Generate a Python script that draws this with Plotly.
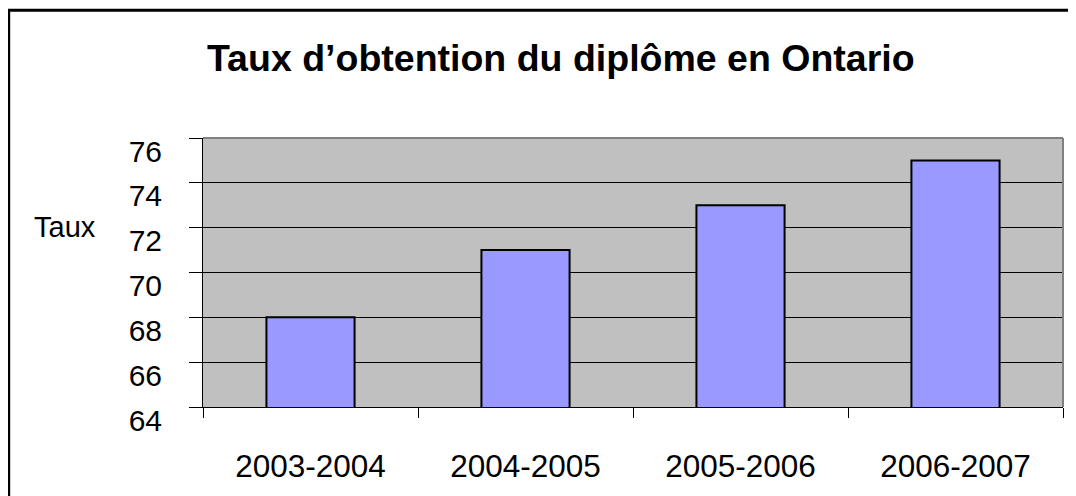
import plotly.graph_objects as go

categories = ["2003-2004", "2004-2005", "2005-2006", "2006-2007"]
taux = [68, 71, 73, 75]
y_ticks = [64, 66, 68, 70, 72, 74, 76]
title_text = "Taux d’obtention du diplôme en Ontario"
y_label = "Taux"

OFF = 8  # page body margin
W, H = 1076 - OFF, 496 - OFF
L, T = 203 - OFF, 138 - OFF
R = W - (1063 - OFF)
B = H - (410 - OFF)
pw, ph = W - L - R, H - T - B

def px_x(x):
    return (x - OFF - L) / pw

def px_y(y):
    return (H - B - (y - OFF)) / ph

fig = go.Figure()
fig.add_trace(go.Bar(
    x=categories, y=taux, width=0.41,
    marker=dict(color="#9999FF", line=dict(color="#000000", width=2)),
    showlegend=False, hoverinfo="skip",
))

fig.update_layout(
    width=W, height=H,
    margin=dict(l=L, r=R, t=T, b=B, pad=0),
    paper_bgcolor="#FFFFFF",
    plot_bgcolor="#C0C0C0",
    font=dict(family="Liberation Sans, Arial, sans-serif", color="#000000"),
    xaxis=dict(
        type="category", tickson="boundaries", ticks="outside", ticklen=10,
        tickcolor="#000000", tickwidth=1, showgrid=False,
        showline=True, linecolor="#000000", linewidth=1,
        tickfont=dict(size=31.5), ticklabelstandoff=31,
    ),
    yaxis=dict(
        range=[64, 76], tickvals=y_ticks, ticktext=[str(v) for v in y_ticks],
        ticks="outside", ticklen=13, tickcolor="#000000", tickwidth=1,
        showgrid=True, gridcolor="#000000", gridwidth=1,
        showline=True, linecolor="#000000", linewidth=1, zeroline=False,
        tickfont=dict(size=30), ticklabelshift=13, ticklabelstandoff=21,
    ),
    shapes=[
        dict(type="line", xref="paper", yref="paper", x0=0, x1=1, y0=1, y1=1,
             line=dict(color="#808080", width=2)),
        dict(type="line", xref="paper", yref="paper", x0=1, x1=1, y0=0, y1=1,
             line=dict(color="#808080", width=2)),
        dict(type="rect", xref="paper", yref="paper",
             x0=px_x(8.7), x1=px_x(1300), y0=px_y(8.7), y1=px_y(700),
             line=dict(color="#000000", width=3), layer="above"),
    ],
    annotations=[
        dict(text=f"<b>{title_text}</b>", xref="paper", yref="paper",
             x=px_x(561), y=px_y(57), xanchor="center", yanchor="middle",
             showarrow=False, font=dict(size=37.5)),
        dict(text=y_label, xref="paper", yref="paper",
             x=px_x(65), y=px_y(228), xanchor="center", yanchor="middle",
             showarrow=False, font=dict(size=29)),
    ],
)

fig.write_html("out.html")
